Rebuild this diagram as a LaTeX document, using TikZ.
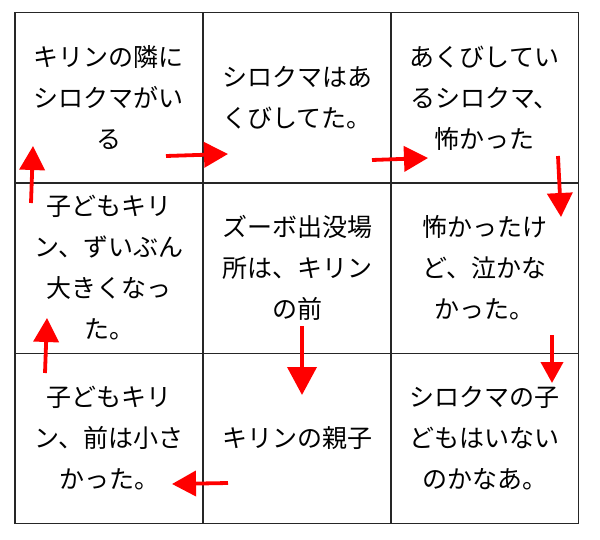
\documentclass[tikz,border=0pt]{standalone}
\usepackage{fontspec}
\setmainfont{Noto Sans CJK JP}
\usetikzlibrary{arrows.meta}
\begin{document}
\begin{tikzpicture}[x=1pt,y=-1pt,
  cell/.style={draw=black!85,line width=1.3pt,minimum width=188pt,minimum height=170.5pt,
    inner sep=0pt,align=center,font=\fontsize{25}{41}\selectfont},
  redarrow/.style={draw=red,line width=3.8pt,-{Triangle[length=24pt,width=25pt]}}]
\useasboundingbox (0,0) rectangle (600,539);
\fill[white] (0,0) rectangle (600,539);
% cells
\node[cell] (c11) at (109,97.75) {キリンの隣に\\シロクマがい\\る};
\node[cell] (c12) at (297,97.75) {\rule{0pt}{8pt}シロクマはあ\\くびしてた。};
\node[cell] (c13) at (484.5,97.75) {あくびしてい\\るシロクマ、\\怖かった};
\node[cell] (c21) at (109,268) {子どもキリ\\ン、ずいぶん\\大きくなっ\\た。};
\node[cell] (c22) at (297,268) {ズーボ出没場\\所は、キリン\\の前};
\node[cell] (c23) at (484.5,268) {怖かったけ\\ど、泣かな\\かった。};
\node[cell] (c31) at (109,438.5) {子どもキリ\\ン、前は小さ\\かった。};
\node[cell] (c32) at (297,438.5) {キリンの親子};
\node[cell] (c33) at (484.5,438.5) {シロクマの子\\どもはいない\\のかなあ。};
% arrow end points
\coordinate (a1s) at (31,203); \coordinate (a1e) at (33,146);
\coordinate (a2s) at (166,156); \coordinate (a2e) at (228,154);
\coordinate (a3s) at (372,160); \coordinate (a3e) at (428,158);
\coordinate (a4s) at (558,156); \coordinate (a4e) at (561,217);
\coordinate (a5s) at (302,326); \coordinate (a5e) at (302,395);
\coordinate (a6s) at (552,335); \coordinate (a6e) at (552,383);
\coordinate (a7s) at (228,483); \coordinate (a7e) at (172,484);
\coordinate (a8s) at (45,373); \coordinate (a8e) at (47,318);
\draw[redarrow] (a1s) -- (a1e);
\draw[redarrow] (a2s) -- (a2e);
\draw[redarrow] (a3s) -- (a3e);
\draw[redarrow] (a4s) -- (a4e);
\draw[redarrow,-{Triangle[length=28pt,width=29pt]}] (a5s) -- (a5e);
\draw[redarrow,-{Triangle[length=21pt,width=22pt]}] (a6s) -- (a6e);
\draw[redarrow] (a7s) -- (a7e);
\draw[redarrow] (a8s) -- (a8e);
\end{tikzpicture}
\end{document}
